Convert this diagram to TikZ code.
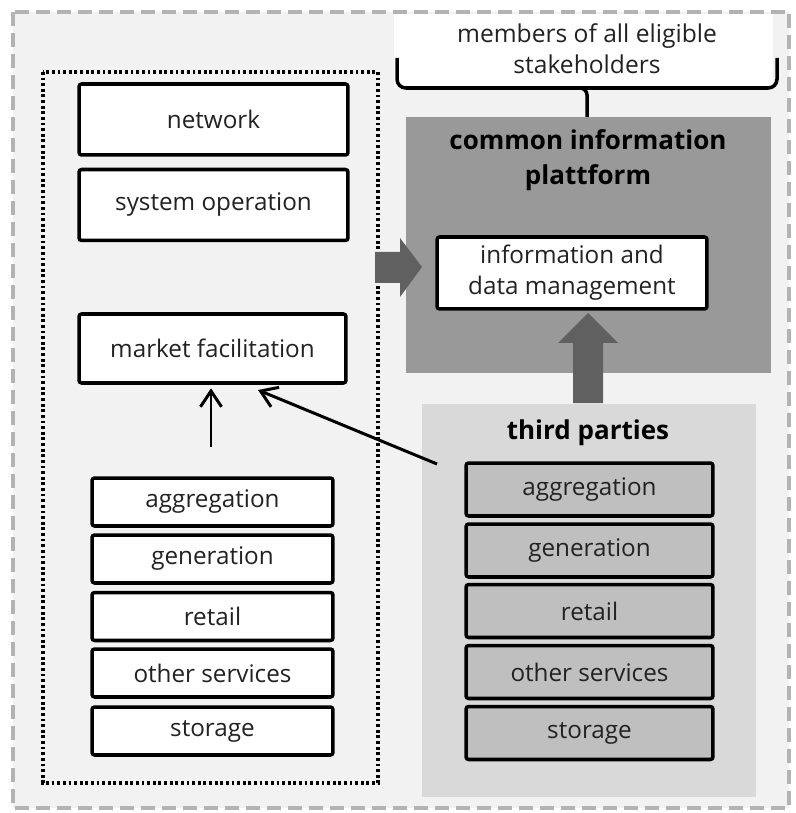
\documentclass[tikz,border=0pt]{standalone}
\usepackage{fontspec}
\setmainfont{Open Sans}
\usetikzlibrary{arrows.meta}

\definecolor{pagegray}{HTML}{F2F2F2}
\definecolor{dashgray}{HTML}{B3B3B3}
\definecolor{platformgray}{HTML}{999999}
\definecolor{arrowgray}{HTML}{606060}
\definecolor{thirdgray}{HTML}{D9D9D9}
\definecolor{partygray}{HTML}{BFBFBF}
\definecolor{textgray}{HTML}{222222}

\tikzset{
  rolebox/.style={draw=black, line width=2pt, fill=white, rounded corners=1.5pt,
    inner sep=0pt, align=center, text=textgray, font=\fontsize{13.8}{17.5}\selectfont},
  bigrole/.style={rolebox, minimum width=5.38cm, minimum height=1.42cm},
  smallrole/.style={rolebox, minimum width=4.82cm, minimum height=0.96cm},
  partyrole/.style={rolebox, fill=partygray, minimum width=4.94cm, minimum height=1.06cm},
  linkarrow/.style={line width=1.7pt, -{Straight Barb[length=9pt,width=12pt,line width=1.7pt]}},
  blockarrow/.style={fill=arrowgray, draw=none},
  headline/.style={font=\fontsize{14.8}{20}\selectfont\bfseries, align=center},
}

\begin{document}
\begin{tikzpicture}[x=0.02cm,y=-0.02cm]
  \useasboundingbox (0,0) rectangle (795,813);

  % outer frame
  \fill[white] (0,0) rectangle (795,813);
  \draw[dashgray, fill=pagegray, line width=2.4pt, dash pattern=on 0.28cm off 0.14cm]
    (13,12) rectangle (789,808);

  % stakeholders brace
  \fill[white] (394,14) rectangle (773,88);
  \node[font=\fontsize{14}{17.5}\selectfont, align=center, text=textgray] (members) at (587,49)
    {members of all eligible\\stakeholders};
  \draw[line width=2pt, rounded corners=5pt] (397,58) -- (397,88) -- (777,88) -- (777,58);
  \draw[line width=2pt, rounded corners=4pt] (577,88) -- (587,88) -- (587,117);

  % common information platform
  \fill[platformgray] (406,117) rectangle (771,373);
  \node[headline] (platform) at (588,160) {common information\\plattform};
  \node[bigrole, minimum width=5.4cm, minimum height=1.44cm] (infodata) at (572,273)
    {information and\\data management};

  % third parties
  \fill[thirdgray] (422,404) rectangle (756,797);
  \node[headline] (third) at (588,433) {third parties};
  \node[partyrole] (tpagg) at (589.5,489.5) {aggregation};
  \node[partyrole] (tpgen) at (589.5,550.5) {generation};
  \node[partyrole] (tpret) at (589.5,611) {retail};
  \node[partyrole] (tpoth) at (589.5,672) {other services};
  \node[partyrole] (tpsto) at (589.5,733) {storage};

  % regulated roles
  \draw[line width=1.8pt, dash pattern=on 1.6pt off 1.6pt] (43,72) rectangle (378,783);
  \node[bigrole] (network) at (213.5,119.5) {network};
  \node[bigrole] (sysop) at (213.5,205) {system operation};
  \node[bigrole, minimum width=5.34cm, minimum height=1.38cm] (market) at (212.5,348.5) {market facilitation};
  \node[smallrole] (agg) at (212.5,502) {aggregation};
  \node[smallrole] (gen) at (212.5,559) {generation};
  \node[smallrole] (ret) at (212.5,616.5) {retail};
  \node[smallrole] (oth) at (212.5,673) {other services};
  \node[smallrole] (sto) at (212.5,731) {storage};

  % arrows
  \coordinate (upstart) at (211,447);
  \coordinate (diagstart) at (437,464);
  \coordinate (diagtip) at (258,390);
  \draw[linkarrow] (upstart) -- ([yshift=-2pt]market.south -| upstart);
  \draw[linkarrow] (diagstart) -- (diagtip);

  \fill[blockarrow] (375,252) -- (400,252) -- (400,238) -- (422,267) -- (400,297)
    -- (400,283) -- (375,283) -- cycle;
  \fill[blockarrow] (573,403) -- (573,343) -- (558,343) -- (588,313) -- (618,343)
    -- (603,343) -- (603,403) -- cycle;
\end{tikzpicture}
\end{document}
